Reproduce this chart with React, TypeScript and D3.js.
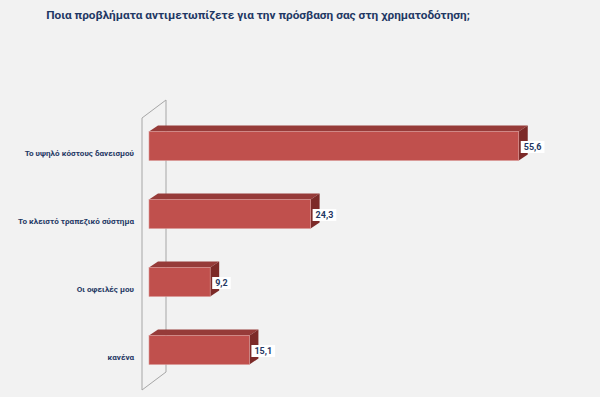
import React, { useEffect, useRef } from "react";
import * as d3 from "d3";

const title = "Ποια προβλήματα αντιμετωπίζετε για την πρόσβαση σας στη χρηματοδότηση;";
const categories = [
    "Το υψηλό κόστους δανεισμού",
    "Το κλειστό τραπεζικό σύστημα",
    "Οι οφειλές μου",
    "κανένα",
];
const values = [55.6, 24.3, 9.2, 15.1];

const width = 600, height = 397;
const depthX = 9, depthY = -6;
const font = "Roboto";

const App = () => {
    const ref = useRef<SVGSVGElement>(null);

    useEffect(() => {
        const svg = d3.select(ref.current);
        svg.selectAll("*").remove();

        svg.append("rect")
            .attr("width", width)
            .attr("height", height)
            .attr("fill", "#f2f2f2");

        svg.append("text")
            .attr("x", 258)
            .attr("y", 19)
            .attr("text-anchor", "middle")
            .attr("font-family", font)
            .attr("font-weight", "bold")
            .attr("font-size", 11.8)
            .attr("fill", "#1f3864")
            .text(title);

        const xScale = d3.scaleLinear()
            .domain([0, 60])
            .range([149, 548]);

        const yScale = d3.scaleBand()
            .domain(categories)
            .range([112, 384])
            .paddingInner(0.574)
            .paddingOuter(0.287);

        // back wall
        svg.append("path")
            .attr("fill", "none")
            .attr("stroke", "#a6a6a6")
            .attr("stroke-width", 1)
            .attr("d", "M142,390 L142,118 L166,100 L166,372 L142,390");

        const bh = yScale.bandwidth();
        const bars = svg.append("g")
            .selectAll("g")
            .data(values)
            .enter()
            .append("g");

        // top face
        bars.append("path")
            .attr("fill", "#963b39")
            .attr("d", (d, i) => {
                const x0 = xScale(0), x1 = xScale(d), y = yScale(categories[i])!;
                return `M${x0},${y} L${x0 + depthX},${y + depthY} L${x1 + depthX},${y + depthY} L${x1},${y} Z`;
            });
        // side face
        bars.append("path")
            .attr("fill", "#7c2a28")
            .attr("d", (d, i) => {
                const x1 = xScale(d), y = yScale(categories[i])!;
                return `M${x1},${y} L${x1 + depthX},${y + depthY} L${x1 + depthX},${y + depthY + bh} L${x1},${y + bh} Z`;
            });
        // front face
        bars.append("rect")
            .attr("x", xScale(0))
            .attr("y", (d, i) => yScale(categories[i])!)
            .attr("width", (d) => xScale(d) - xScale(0))
            .attr("height", bh)
            .attr("fill", "#c0504d")
            .attr("stroke", "#d99694")
            .attr("stroke-width", 0.6);

        // value labels
        bars.each(function (d, i) {
            const g = d3.select(this);
            const label = String(d).replace(".", ",");
            const x = xScale(d) + 2;
            const yc = yScale(categories[i])! + bh / 2 + 1;
            const t = g.append("text")
                .attr("x", x + 3)
                .attr("y", yc)
                .attr("dy", "0.35em")
                .attr("font-family", font)
                .attr("font-weight", "bold")
                .attr("font-size", 9)
                .attr("fill", "#1f3864")
                .text(label);
            const w = (t.node() as SVGTextElement).getComputedTextLength();
            g.insert("rect", "text")
                .attr("x", x)
                .attr("y", yc - 6)
                .attr("width", w + 6)
                .attr("height", 12)
                .attr("fill", "#ffffff");
        });

        // category labels
        svg.append("g")
            .selectAll("text")
            .data(categories)
            .enter()
            .append("text")
            .attr("x", 134)
            .attr("y", (d) => yScale(d)! + bh / 2 + 7)
            .attr("dy", "0.35em")
            .attr("text-anchor", "end")
            .attr("font-family", font)
            .attr("font-weight", "bold")
            .attr("font-size", 8.1)
            .attr("fill", "#1f3864")
            .text((d) => d);
    }, []);

    return (
        <div style={{ position: "absolute", left: 0, top: 0 }}>
            <svg ref={ref} width={width} height={height} style={{ display: "block" }} />
        </div>
    );
};

export default App;
